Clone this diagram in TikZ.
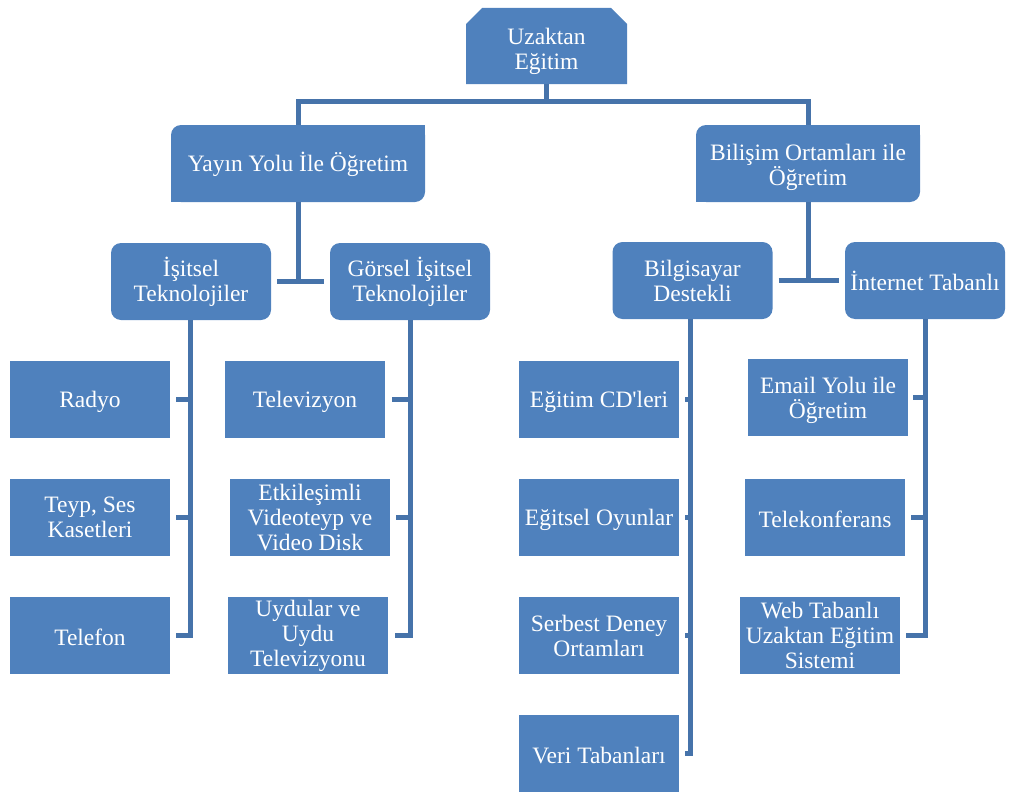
\documentclass[tikz,border=0pt]{standalone}
\usepackage{fontspec}
\setmainfont{Liberation Serif}
\usetikzlibrary{shapes.misc}
\definecolor{boxblue}{HTML}{4F81BD}
\definecolor{lineblue}{HTML}{4673AA}
% raises the top of the first text line, which sets the text a little lower in its box
\newcommand\droptext[1]{\rule{0pt}{#1pt}}
\begin{document}
\begin{tikzpicture}[x=1pt,y=-1pt,
  every node/.style={text=white,align=center,inner sep=0pt,
    font=\fontsize{23.5}{25}\selectfont,execute at begin node={\droptext{21}}},
  leaf/.style={fill=boxblue,minimum width=160pt,minimum height=77pt},
  group/.style={fill=boxblue,rounded corners=10pt,minimum width=160pt,minimum height=77pt},
  branch/.style={fill=boxblue,rounded corners=10pt,minimum height=77pt},
  rootbox/.style={chamfered rectangle,chamfered rectangle corners={north west,north east},
    chamfered rectangle xsep=8pt,chamfered rectangle ysep=8pt,fill=boxblue,
    minimum width=161pt,minimum height=76pt},
  conn/.style={draw=lineblue,line width=5pt}]
\useasboundingbox (0,0) rectangle (1009,792);

% root
\node[rootbox] (uz) at (546.5,46) {\droptext{28}Uzaktan\\Eğitim};

% second level: rounded top-left and bottom-right corners only
\node[branch,minimum width=254pt] (ya) at (298,163.5) {Yayın Yolu İle Öğretim};
\node[branch,minimum width=224pt] (bi) at (808,163.5) {\droptext{24}Bilişim Ortamları ile\\Öğretim};
\foreach \n in {ya,bi}{
  \fill[boxblue] (\n.north east) rectangle ([xshift=-12pt,yshift=-12pt]\n.north east);
  \fill[boxblue] (\n.south west) rectangle ([xshift=12pt,yshift=12pt]\n.south west);
}

% third level
\node[group] (is) at (191,281.5) {İşitsel\\Teknolojiler};
\node[group] (gi) at (410,281.5) {Görsel İşitsel\\Teknolojiler};
\node[group] (bd) at (692.5,280.5) {Bilgisayar\\Destekli};
\node[group] (it) at (925,280.5) {İnternet Tabanlı};

% leaves
\node[leaf] (rad) at (90,399.5) {Radyo};
\node[leaf] (teyp) at (90,517.5) {Teyp, Ses\\Kasetleri};
\node[leaf] (telf) at (90,635.5) {Telefon};

\node[leaf] (tv) at (305,399.5) {Televizyon};
\node[leaf] (etk) at (310,517.5) {Etkileşimli\\Videoteyp ve\\Video Disk};
\node[leaf] (uyd) at (308,635.5) {Uydular ve\\Uydu\\Televizyonu};

\node[leaf] (cd) at (599,399.5) {Eğitim CD\textquotesingle leri};
\node[leaf] (oyun) at (599,517.5) {Eğitsel Oyunlar};
\node[leaf] (serb) at (599,635.5) {Serbest Deney\\Ortamları};
\node[leaf] (veri) at (599,753.5) {Veri Tabanları};

\node[leaf] (mail) at (828,397.5) {\droptext{22}Email Yolu ile\\Öğretim};
\node[leaf] (tk) at (825,517.5) {Telekonferans};
\node[leaf] (web) at (820,635.5) {Web Tabanlı\\Uzaktan Eğitim\\Sistemi};

% connectors: root to second level
\coordinate (topbar) at (546.5,101);
\draw[conn] (uz.south) -- (topbar);
\draw[conn] (ya.north) |- (topbar) -| (bi.north);

% second to third level
\draw[conn] (ya.south) -- (ya.south |- gi.west);
\draw[conn] ([xshift=6pt]is.east) -- ([xshift=-6pt]gi.west);
\draw[conn] (bi.south) -- (bi.south |- bd.east);
\draw[conn] ([xshift=6pt]bd.east) -- ([xshift=-6pt]it.west);

% third level to leaves
\draw[conn] (is.south -| 190,0) |- ([xshift=6pt]telf.east);
\draw[conn] ([xshift=6pt]rad.east) -- (rad.east -| 190,0);
\draw[conn] ([xshift=6pt]teyp.east) -- (teyp.east -| 190,0);

\draw[conn] (gi.south) |- ([xshift=7pt]uyd.east);
\draw[conn] ([xshift=7pt]tv.east) -- (tv.east -| gi.south);
\draw[conn] ([xshift=6pt]etk.east) -- (etk.east -| gi.south);

\draw[conn] (bd.south -| 690,0) |- ([xshift=6pt]veri.east);
\draw[conn] ([xshift=6pt]cd.east) -- (cd.east -| 690,0);
\draw[conn] ([xshift=6pt]oyun.east) -- (oyun.east -| 690,0);
\draw[conn] ([xshift=6pt]serb.east) -- (serb.east -| 690,0);

\draw[conn] (it.south) |- ([xshift=6pt]web.east);
\draw[conn] ([xshift=5pt]mail.east) -- (mail.east -| it.south);
\draw[conn] ([xshift=6pt]tk.east) -- (tk.east -| it.south);
\end{tikzpicture}
\end{document}
